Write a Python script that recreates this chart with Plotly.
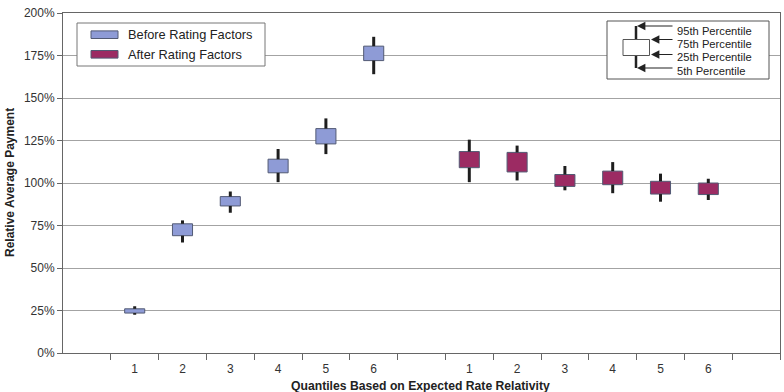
import plotly.graph_objects as go

# ---------------- data ----------------
quantile_labels = ["1", "2", "3", "4", "5", "6"]

before_p5 = [22.5, 65.0, 82.5, 100.5, 117.0, 164.0]
before_p25 = [23.5, 69.0, 86.5, 106.0, 123.0, 172.0]
before_p75 = [26.0, 76.0, 92.0, 114.0, 132.0, 180.5]
before_p95 = [27.5, 78.0, 95.0, 120.0, 138.0, 186.0]

after_p5 = [100.5, 101.5, 95.7, 94.0, 89.0, 90.0]
after_p25 = [109.0, 106.5, 98.0, 99.0, 93.5, 93.2]
after_p75 = [118.5, 118.0, 105.0, 107.0, 101.0, 100.0]
after_p95 = [125.5, 122.0, 110.0, 112.3, 105.5, 102.5]

y_ticks = [0, 25, 50, 75, 100, 125, 150, 175, 200]

series_names = ["Before Rating Factors", "After Rating Factors"]
legend_notes = ["95th Percentile", "75th Percentile", "25th Percentile", "5th Percentile"]

# ---------------- style ----------------
C_BEFORE = "#8e9bd6"
C_AFTER = "#9c2b63"
EDGE = "#525a74"
WHISK = "#1e1e1e"
GRID = "#a3a3a3"
AXIS = "#666666"
FONT = "Liberation Sans, Arial, sans-serif"

W, H = 784, 392
L, R, T, B = 63, 4, 13, 39
PW, PH = W - L - R, H - T - B


def px(x):
    return (x - L) / PW


def py(y):
    return (H - B - y) / PH


n = len(quantile_labels)
x_before = [1 + i for i in range(n)]
x_after = [n + 2 + i for i in range(n)]
n_slots = 2 * n + 3

fig = go.Figure()


def add_group(xs, p5, p25, p75, p95, color, name):
    wx, wy = [], []
    for x, a, b, c, d in zip(xs, p5, p25, p75, p95):
        wx += [x, x, None, x, x, None]
        wy += [a, b, None, c, d, None]
    fig.add_trace(go.Scatter(x=wx, y=wy, mode="lines",
                             line=dict(color=WHISK, width=3),
                             hoverinfo="skip", showlegend=False))
    fig.add_trace(go.Bar(x=xs, base=p25,
                         y=[c - b for b, c in zip(p25, p75)],
                         width=0.42, name=name,
                         marker=dict(color=color, line=dict(color=EDGE, width=1)),
                         showlegend=False))


add_group(x_before, before_p5, before_p25, before_p75, before_p95, C_BEFORE, series_names[0])
add_group(x_after, after_p5, after_p25, after_p75, after_p95, C_AFTER, series_names[1])

shapes = []
annotations = []

# ---- manual legend (top-left) ----
shapes.append(dict(type="rect", xref="paper", yref="paper",
                   x0=px(77), x1=px(265), y0=py(66), y1=py(23),
                   line=dict(color="#777777", width=1), fillcolor="white", layer="above"))
for i, (nm, col) in enumerate(zip(series_names, [C_BEFORE, C_AFTER])):
    yc = 34.7 + i * 19.6
    shapes.append(dict(type="rect", xref="paper", yref="paper",
                       x0=px(91), x1=px(118), y0=py(yc + 3.8), y1=py(yc - 3.8),
                       line=dict(color=EDGE, width=1), fillcolor=col, layer="above"))
    annotations.append(dict(xref="paper", yref="paper", x=px(126), y=py(yc),
                            xanchor="left", yanchor="middle", showarrow=False,
                            text=nm, font=dict(family=FONT, size=12.8, color="#222222")))

# ---- percentile key (top-right) ----
shapes.append(dict(type="rect", xref="paper", yref="paper",
                   x0=px(607), x1=px(769), y0=py(79), y1=py(21),
                   line=dict(color="#555555", width=1), fillcolor="white", layer="above"))
shapes.append(dict(type="line", xref="paper", yref="paper",
                   x0=px(636), x1=px(636), y0=py(26), y1=py(68),
                   line=dict(color="#222222", width=2.5), layer="above"))
shapes.append(dict(type="rect", xref="paper", yref="paper",
                   x0=px(623), x1=px(649.5), y0=py(55.5), y1=py(39.5),
                   line=dict(color="#555555", width=1), fillcolor="white", layer="above"))
arrow_tips = [(637, 26), (651, 39.5), (651, 54.5), (637, 68)]
text_y = [30.5, 43.5, 57.5, 71.0]
for (tx, ty), lbl, yy in zip(arrow_tips, legend_notes, text_y):
    annotations.append(dict(xref="paper", yref="paper", x=px(tx), y=py(ty),
                            ax=674 - tx, ay=0, text="", showarrow=True,
                            arrowhead=2, arrowsize=1.4, arrowwidth=1.2,
                            arrowcolor="#222222", standoff=0, startstandoff=0))
    annotations.append(dict(xref="paper", yref="paper", x=px(676), y=py(yy),
                            xanchor="left", yanchor="middle", showarrow=False,
                            borderpad=0,
                            text=lbl, font=dict(family=FONT, size=11.2, color="#222222")))

# ---- axis titles ----
annotations.append(dict(xref="paper", yref="paper", x=px(420), y=py(386),
                        xanchor="center", yanchor="middle", showarrow=False,
                        text="<b>Quantiles Based on Expected Rate Relativity</b>",
                        font=dict(family=FONT, size=12.2, color="#222222")))
annotations.append(dict(xref="paper", yref="paper", x=px(10), y=py(183),
                        xanchor="center", yanchor="middle", showarrow=False, textangle=-90,
                        text="<b>Relative Average Payment</b>",
                        font=dict(family=FONT, size=12, color="#222222")))

fig.update_layout(
    width=W, height=H,
    margin=dict(l=L, r=R, t=T, b=B, pad=0),
    paper_bgcolor="white", plot_bgcolor="white",
    showlegend=False,
    barmode="overlay",
    shapes=shapes, annotations=annotations,
    font=dict(family=FONT, size=12, color="#333333"),
)
fig.update_xaxes(
    range=[-0.5, n_slots - 0.5], autorange=False,
    tickmode="array", tickvals=x_before + x_after, ticktext=quantile_labels + quantile_labels,
    ticks="", showgrid=False, zeroline=False, ticklabelstandoff=5,
    showline=True, linecolor=AXIS, linewidth=1, mirror=True,
    tickfont=dict(family=FONT, size=12, color="#333333"),
    minor=dict(tickmode="array", tickvals=[i + 0.5 for i in range(n_slots)],
               ticks="outside", ticklen=6, tickcolor=AXIS, tickwidth=1, showgrid=False),
)
fig.update_yaxes(
    range=[0, 200], autorange=False,
    tickmode="array", tickvals=y_ticks, ticktext=[f"{v}%" for v in y_ticks],
    ticks="outside", ticklen=5, tickcolor=AXIS,
    showgrid=True, gridcolor=GRID, gridwidth=1, zeroline=False,
    showline=True, linecolor=AXIS, linewidth=1, mirror=True,
    tickfont=dict(family=FONT, size=12, color="#333333"),
)

fig.write_html("out.html")
